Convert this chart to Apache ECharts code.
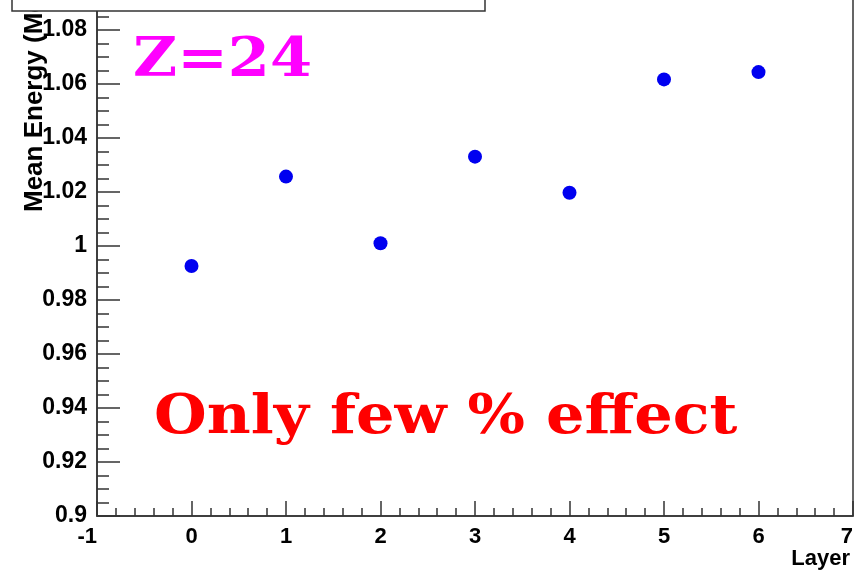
<!DOCTYPE html>
<html>
<head>
<meta charset="utf-8">
<script src="https://cdn.jsdelivr.net/npm/echarts@6/dist/echarts.min.js"></script>
<style>
html,body{margin:0;padding:0;background:#fff;}
#chart{width:860px;height:572px;}
</style>
</head>
<body>
<div id="chart"></div>
<script>
// ---- data ----
const layers = [0, 1, 2, 3, 4, 5, 6];
const meanEnergy = [0.9926, 1.0257, 1.0010, 1.0331, 1.0197, 1.0617, 1.0644];
const xTitle = 'Layer';
const yTitle = 'Mean Energy (MeV)';
const label1 = 'Z=24';
const label2 = 'Only few % effect';

const chart = echarts.init(document.getElementById('chart'), null, {renderer: 'canvas'});
const axisColor = '#333';
const lblFont = {fontFamily: 'Liberation Sans', fontWeight: 'bold', color: '#000'};

const option = {
  backgroundColor: '#fff',
  animation: false,
  grid: {left: 97, right: 7, top: -24, bottom: 56, containLabel: false, outerBoundsMode: 'none',
    show: true, borderColor: axisColor, borderWidth: 1.5, backgroundColor: 'transparent'},
  xAxis: {
    type: 'value', min: -1, max: 7, interval: 1,
    axisLine: {show: true, onZero: false, lineStyle: {color: axisColor, width: 1.5}},
    axisTick: {show: true, inside: true, length: 15, lineStyle: {color: axisColor, width: 1.5}},
    minorTick: {show: true, splitNumber: 5, length: 8, lineStyle: {color: axisColor, width: 1.5}},
    splitLine: {show: false},
    axisLabel: Object.assign({fontSize: 22, margin: 10, alignMinLabel: 'right', alignMaxLabel: 'right'}, lblFont)
  },
  yAxis: {
    type: 'value', min: 0.9, max: 1.1, interval: 0.02,
    axisLine: {show: true, onZero: false, lineStyle: {color: axisColor, width: 1.5}},
    axisTick: {show: true, inside: true, length: 23, lineStyle: {color: axisColor, width: 1.5}},
    minorTick: {show: true, splitNumber: 4, length: 12, lineStyle: {color: axisColor, width: 1.5}},
    splitLine: {show: false},
    axisLabel: Object.assign({fontSize: 23, margin: 10, formatter: v => String(+v.toFixed(2))}, lblFont)
  },
  series: [{
    type: 'scatter',
    data: layers.map((x, i) => [x, meanEnergy[i]]),
    symbol: 'circle', symbolSize: 14,
    itemStyle: {color: '#0000f0', opacity: 1}
  }],
  graphic: [
    {type: 'rect', shape: {x: 12, y: -10, width: 473, height: 21}, style: {fill: '#fff', stroke: '#333', lineWidth: 1.5}, z: 100},
    {type: 'text', x: 35, y: 212, rotation: Math.PI / 2,
      style: {text: yTitle, font: 'bold 26px "Liberation Sans"', fill: '#000', textAlign: 'left', textVerticalAlign: 'middle'}, z: 90},
    {type: 'text', x: 850, y: 559,
      style: {text: xTitle, font: 'bold 22px "Liberation Sans"', fill: '#000', textAlign: 'right', textVerticalAlign: 'middle'}},
    {type: 'text', x: 133, y: 62, scaleY: 0.9,
      style: {text: label1, font: 'bold 60.5px "DejaVu Serif"', fill: '#ff00ff', textAlign: 'left', textVerticalAlign: 'middle'}},
    {type: 'text', x: 154, y: 418.5, scaleY: 0.9,
      style: {text: label2, font: 'bold 60.5px "DejaVu Serif"', fill: '#ff0000', textAlign: 'left', textVerticalAlign: 'middle'}}
  ]
};
chart.setOption(option);
</script>
</body>
</html>
